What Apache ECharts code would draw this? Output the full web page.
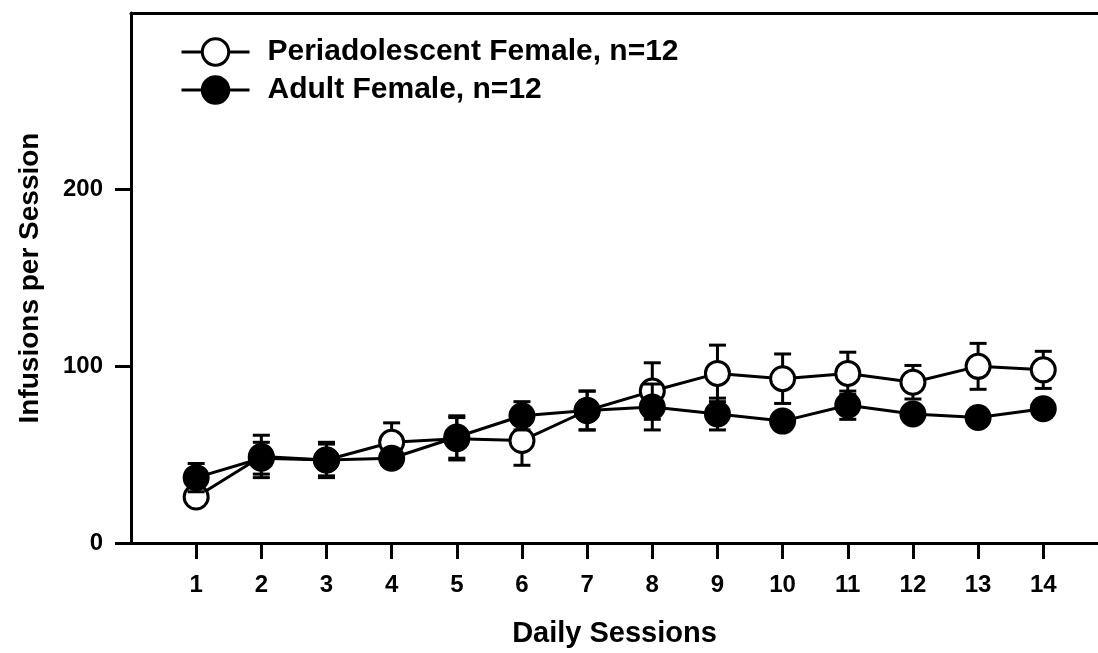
<!DOCTYPE html>
<html>
<head>
<meta charset="utf-8">
<script src="https://cdn.jsdelivr.net/npm/echarts@6/dist/echarts.min.js"></script>
<style>
    html, body { margin: 0; padding: 0; background: #fff; }
    #chart { width: 1098px; height: 653px; }
</style>
</head>
<body>
<div id="chart"></div>
<script>
const sessions = [1, 2, 3, 4, 5, 6, 7, 8, 9, 10, 11, 12, 13, 14];
const periMean = [26, 49, 47, 57, 59, 58, 75, 86, 96, 93, 96, 91, 100, 98];
const periSem = [3, 12, 10, 11, 12, 14, 11, 16, 16, 14, 12, 9.5, 13, 10.5];
const adultMean = [37, 48, 47, 48, 60, 72, 75, 77, 73, 69, 78, 73, 71, 76];
const adultSem = [8, 9, 9, 5, 12, 8, 11, 13, 9, 4, 8, 4, 3, 3];
const yTicks = [0, 100, 200];

const font = 'Liberation Sans, Arial, sans-serif';

function points(means) {
    return sessions.map((s, i) => [s, means[i]]);
}
function errData(means, sems) {
    return sessions.map((s, i) => [s, means[i] - sems[i], means[i] + sems[i]]);
}
// vertical SEM bar with a cap at both ends
function errorBars(params, api) {
    const lo = api.coord([api.value(0), api.value(1)]);
    const hi = api.coord([api.value(0), api.value(2)]);
    const half = 8.5;
    const style = { stroke: '#000', lineWidth: 3 };
    return {
        type: 'group',
        children: [
            { type: 'line', shape: { x1: lo[0], y1: lo[1], x2: hi[0], y2: hi[1] }, style: style },
            { type: 'line', shape: { x1: lo[0] - half, y1: lo[1], x2: lo[0] + half, y2: lo[1] }, style: style },
            { type: 'line', shape: { x1: hi[0] - half, y1: hi[1], x2: hi[0] + half, y2: hi[1] }, style: style },
        ],
    };
}

const myChart = echarts.init(document.getElementById('chart'));
const option = {
    animation: false,
    textStyle: { fontFamily: font },
    grid: {
        left: 131,
        right: 0,
        top: 13,
        bottom: 108,
    },
    legend: {
        orient: 'vertical',
        left: 175,
        top: 32,
        itemWidth: 68,
        itemHeight: 33,
        itemGap: 8,
        lineStyle: { width: 3 },
        itemStyle: { borderWidth: 3 },
        textStyle: {
            fontFamily: font,
            fontWeight: 'bold',
            fontSize: 30,
            color: '#000',
            padding: [0, 0, 0, 13],
        },
        data: ['Periadolescent Female, n=12', 'Adult Female, n=12'],
    },
    xAxis: [
        {
            type: 'value',
            min: 0,
            max: 14.84,
            name: 'Daily Sessions',
            nameLocation: 'middle',
            nameGap: 76,
            nameTextStyle: { fontFamily: font, fontWeight: 'bold', fontSize: 29, color: '#000' },
            axisLine: { lineStyle: { color: '#000', width: 3 } },
            axisTick: { customValues: sessions, length: 16, lineStyle: { color: '#000', width: 3 } },
            axisLabel: { customValues: sessions, margin: 30, fontFamily: font, fontWeight: 'bold', fontSize: 24, color: '#000' },
            splitLine: { show: false },
        },
        {
            type: 'value',
            position: 'top',
            min: 0,
            max: 14.84,
            axisLine: { show: true, lineStyle: { color: '#000', width: 3 } },
            axisTick: { show: false },
            axisLabel: { show: false },
            splitLine: { show: false },
        },
    ],
    yAxis: {
        type: 'value',
        min: 0,
        max: 300,
        interval: 100,
        name: 'Infusions per Session',
        nameLocation: 'middle',
        nameGap: 87,
        nameTextStyle: { fontFamily: font, fontWeight: 'bold', fontSize: 28, color: '#000' },
        axisLine: { show: true, lineStyle: { color: '#000', width: 3 } },
        axisTick: { show: true, customValues: yTicks, length: 16, lineStyle: { color: '#000', width: 3 } },
        axisLabel: { customValues: yTicks, margin: 28, fontFamily: font, fontWeight: 'bold', fontSize: 24, color: '#000' },
        splitLine: { show: false },
    },
    series: [
        {
            name: 'peri-err',
            type: 'custom',
            z: 1,
            renderItem: errorBars,
            encode: { x: 0, y: [1, 2] },
            data: errData(periMean, periSem),
        },
        {
            name: 'Periadolescent Female, n=12',
            type: 'line',
            z: 2,
            symbol: 'circle',
            symbolSize: 24,
            lineStyle: { color: '#000', width: 3 },
            itemStyle: { color: '#fff', borderColor: '#000', borderWidth: 3 },
            data: points(periMean),
        },
        {
            name: 'adult-err',
            type: 'custom',
            z: 3,
            renderItem: errorBars,
            encode: { x: 0, y: [1, 2] },
            data: errData(adultMean, adultSem),
        },
        {
            name: 'Adult Female, n=12',
            type: 'line',
            z: 4,
            symbol: 'circle',
            symbolSize: 27,
            lineStyle: { color: '#000', width: 3 },
            itemStyle: { color: '#000', borderColor: '#000', borderWidth: 0 },
            data: points(adultMean),
        },
    ],
};
myChart.setOption(option);
window.addEventListener('resize', myChart.resize);
</script>
</body>
</html>
